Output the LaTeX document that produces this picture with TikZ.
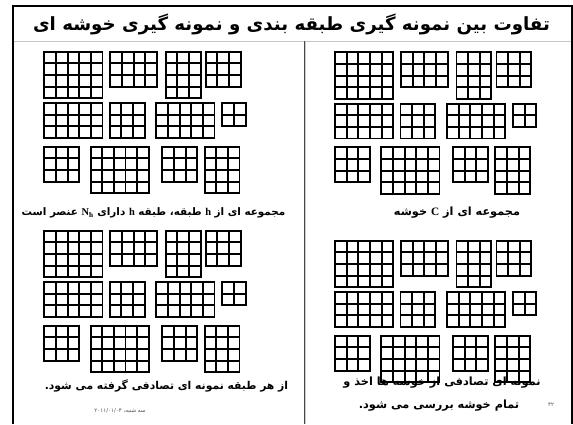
\documentclass[tikz,border=0pt]{standalone}
\usepackage{fontspec}
\TeXXeTstate=1
\newfontfamily\arabicfont[Script=Arabic]{DejaVu Sans}
\newfontfamily\latinfont{Liberation Serif}
\def\cellsz{11.65}
\newcommand{\cellgrid}[4]{%
  \foreach \i in {0,...,#3} \draw[gridline] ({#1+\i*\cellsz},#2) -- ++(0,{#4*\cellsz});
  \foreach \j in {0,...,#4} \draw[gridline] (#1,{#2+\j*\cellsz}) -- ++({#3*\cellsz},0);
}
\newcommand{\cellgroup}[2]{%
  \begin{scope}[shift={(#1,#2)}]
    \cellgrid{0}{0}{5}{4}\cellgrid{66}{0}{4}{3}\cellgrid{121.4}{0}{3}{4}\cellgrid{161.4}{0}{3}{3}
    \cellgrid{0}{51.3}{5}{3}\cellgrid{65.4}{51.3}{3}{3}\cellgrid{112}{51.3}{5}{3}\cellgrid{178}{51.3}{2}{2}
    \cellgrid{0}{95}{3}{3}\cellgrid{46.3}{95}{5}{4}\cellgrid{118}{95}{3}{3}\cellgrid{160.3}{95}{3}{4}
  \end{scope}}
\tikzset{
  gridline/.style={draw=black, line width=1.8pt, line cap=rect},
  frameline/.style={draw=black, line width=2pt},
  titletext/.style={inner sep=0pt, font=\arabicfont\bfseries\fontsize{18.2}{21}\selectfont},
  captext/.style={inner sep=0pt, font=\arabicfont\bfseries\fontsize{11.3}{14}\selectfont},
  smallcap/.style={inner sep=0pt, font=\arabicfont\bfseries\fontsize{10.4}{12}\selectfont},
  tinytext/.style={inner sep=0pt, text=black!70, font=\arabicfont\fontsize{5.5}{7}\selectfont},
}
\begin{document}
\begin{tikzpicture}[x=1pt,y=-1pt]
\useasboundingbox (0,0) rectangle (573,424);
\fill[white] (0,0) rectangle (573,424);
% frame
\draw[frameline] (13,424) -- (13,5.5) -- (571.5,5.5) -- (571.5,424);
\draw[gray!45, line width=0.8pt] (14,41) -- (570.5,41);
\draw[draw=gray!55!black, double=gray!40, double distance=1pt, line width=0.9pt] (305,41.4) -- (305,424);
% title
\node[titletext] (title) at (291.5,24) {\beginR تفاوت بین نمونه گیری طبقه بندی و نمونه گیری خوشه ای\endR};
% grid groups
\cellgroup{44.3}{51.7}
\cellgroup{44.3}{230.7}
\cellgroup{335}{52.3}
\cellgroup{335}{240.7}
% captions
\node[smallcap] (capL1) at (153.5,213) {\beginR مجموعه ای از {\latinfont h} طبقه، طبقه  {\latinfont h} دارای \beginL{\latinfont N\textsubscript{h}}\endL{} عنصر است\endR};
\node[captext] (capR1) at (457,213) {\beginR مجموعه ای از {\latinfont C} خوشه\endR};
\node[captext, font=\arabicfont\bfseries\fontsize{10.8}{13}\selectfont] (capL2) at (166.5,386) {\beginR از هر طبقه نمونه ای تصادفی گرفته می شود.\endR};
\node[captext] (capR2a) at (442,383) {\beginR نمونه ای تصادفی از خوشه ها اخذ و\endR};
\node[captext] (capR2b) at (439,406) {\beginR تمام خوشه بررسی می شود.\endR};
\node[tinytext] (date) at (120,411) {\beginR سه شنبه، \beginL ۲۰۱۱/۰۱/۰۴\endL\endR};
\node[tinytext] (page) at (551,405) {\beginR ۳۲\endR};
\end{tikzpicture}
\end{document}
